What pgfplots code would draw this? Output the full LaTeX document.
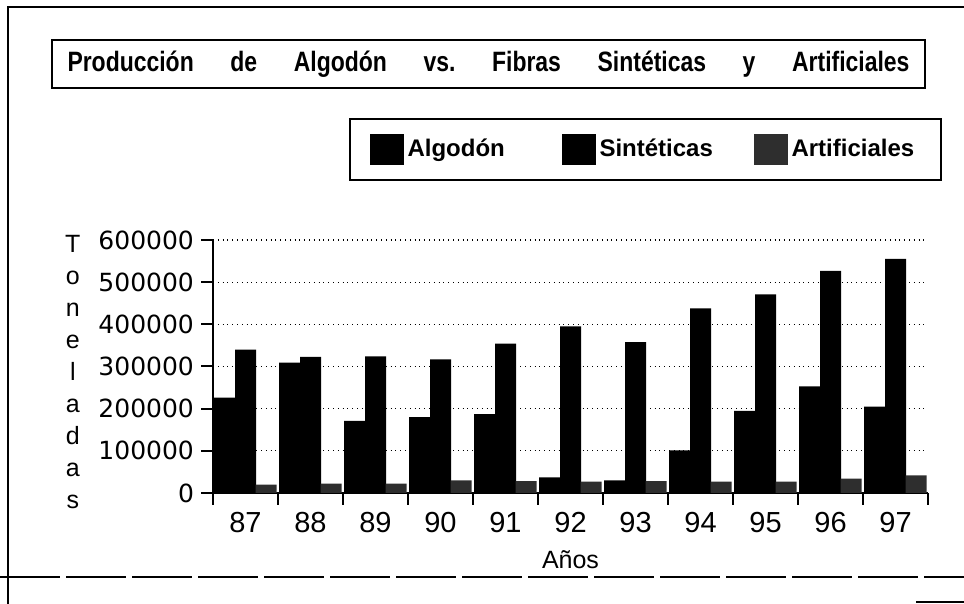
\documentclass[border=0pt]{standalone}
\usepackage{fontspec}
\setmainfont{Liberation Sans}
\newfontfamily\numfont{DejaVu Sans}
\newfontfamily\titlefont{Liberation Sans Bold}[FakeStretch=0.82]
\usepackage{pgfplots}
\pgfplotsset{compat=1.18}
\pgfplotsset{swatch/.style={legend image code/.code={\fill[##1] (0pt,-7.75pt) rectangle (17pt,7.75pt);}}}
\begin{document}
\begin{tikzpicture}[x=0.5pt,y=0.5pt]
\path (0,0) rectangle (964,604);
% scanned frame
\draw[line width=1pt] (8,0) -- (8,597) -- (964,597);
\draw[line width=0.8pt, dash pattern=on 30pt off 3pt] (0,27) -- (964,27);
\draw[line width=1.2pt] (916,2) -- (964,2);
% title box
\node[draw, line width=1pt, minimum width=436.5pt, minimum height=24pt, inner sep=0pt] at (488.5,540)
  {\titlefont\fontsize{14}{16}\selectfont\makebox[421pt]{Producción\hfill de\hfill Algodón\hfill vs.\hfill Fibras\hfill Sintéticas\hfill y\hfill Artificiales}};
\begin{axis}[
  at={(106.5pt,55.5pt)}, anchor=south west,
  scale only axis, width=357.5pt, height=126.5pt,
  xmin=-0.5, xmax=10.5, ymin=0, ymax=600000,
  axis lines*=left,
  axis line style={line width=1pt},
  xtick={-0.5,0.5,...,10.5},
  x tick label as interval,
  xticklabels={87,88,89,90,91,92,93,94,95,96,97},
  ytick={0,100000,...,600000},
  tick align=outside, major tick length=6pt,
  tick style={black, line width=1pt},
  ymajorgrids,
  grid style={black, dotted, line width=0.6pt},
  scaled y ticks=false,
  yticklabel style={font=\numfont\fontsize{12.5}{14}\selectfont,
    /pgf/number format/fixed, /pgf/number format/precision=0,
    /pgf/number format/1000 sep={}, /pgf/number format/assume math mode=true},
  xticklabel style={font=\fontsize{14.5}{16}\selectfont},
  xlabel={Años},
  xlabel style={at={(axis description cs:0.5,-0.265)}, anchor=center, font=\fontsize{12.5}{14}\selectfont},
  ylabel={T\\o\\n\\e\\l\\a\\d\\a\\s},
  ylabel style={rotate=-90, align=center, at={(axis description cs:-0.196,0.48)}, anchor=center, font=\fontsize{12.5}{16}\selectfont},
  legend columns=-1,
  legend cell align=left,
  legend style={at={(axis description cs:1.0196,1.482)}, anchor=north east, draw=black, line width=1pt,
    inner xsep=9.75pt, inner ysep=7.5pt, font=\bfseries\fontsize{12}{14}\selectfont,
    /tikz/every even column/.append style={column sep=0pt}},
]
\addplot[ybar, bar width=10.5pt, bar shift=-10.5pt, fill=black, draw=none, swatch] coordinates {
(0,226000) (1,309000) (2,171000) (3,180000) (4,187000) (5,37000)
(6,30000) (7,101000) (8,195000) (9,253000) (10,205000)};
\addplot[ybar, bar width=10.5pt, bar shift=0pt, fill=black, draw=none, swatch] coordinates {
(0,340000) (1,323000) (2,324000) (3,317000) (4,354000) (5,395000)
(6,358000) (7,438000) (8,471000) (9,527000) (10,555000)};
\addplot[ybar, bar width=10.5pt, bar shift=10.25pt, fill=black!82, draw=none, swatch] coordinates {
(0,20000) (1,22000) (2,22000) (3,30000) (4,28000) (5,27000)
(6,28000) (7,27000) (8,27000) (9,34000) (10,42000)};
\legend{{\makebox[75pt][l]{Algodón}},{\makebox[75pt][l]{Sintéticas}},{\makebox[63pt][l]{Artificiales}}}
\end{axis}
\pgfresetboundingbox
\useasboundingbox (0,0) rectangle (964,604);
\end{tikzpicture}
\end{document}
